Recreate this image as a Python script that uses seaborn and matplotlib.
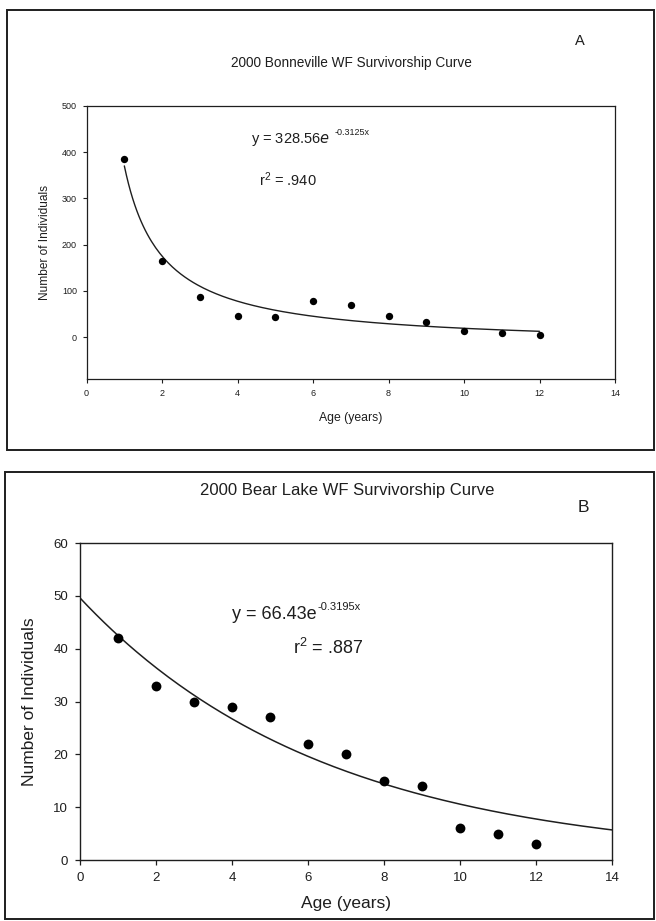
import numpy as np
import pandas as pd
import matplotlib
matplotlib.use("Agg")
import matplotlib.pyplot as plt
from matplotlib.patches import Rectangle
from matplotlib.transforms import offset_copy
import seaborn as sns

# ---- data ----
age = [1, 2, 3, 4, 5, 6, 7, 8, 9, 10, 11, 12]
bonneville = [384, 165, 87, 45, 43, 78, 70, 47, 32, 14, 9, 6]
bear_lake = [42, 33, 30, 29, 27, 22, 20, 15, 14, 6, 5, 3]

# trend curve parameters (as drawn)
bon_a, bon_c = 389.5, -19.5          # y = a/x + c, drawn from x=1..12
bear_a, bear_k = 49.6, 0.1546        # y = a*exp(-k x), drawn from x=0..14

x_ticks = [0, 2, 4, 6, 8, 10, 12, 14]
bon_yticks = [0, 100, 200, 300, 400, 500]
bear_yticks = [0, 10, 20, 30, 40, 50, 60]

sns.set_theme(style="ticks")
plt.rcParams['font.family'] = ['Liberation Sans', 'DejaVu Sans']
plt.rcParams['mathtext.default'] = 'regular'
plt.rcParams['axes.unicode_minus'] = False

W, H = 656, 921
fig = plt.figure(figsize=(W / 100, H / 100), dpi=100)
fig.patch.set_facecolor("white")

ink = "#1e1e1e"

# outer panel boxes
for (x0, y0, x1, y1) in [(7, 10, 654, 450), (5, 472, 654, 919)]:
    fig.patches.append(Rectangle((x0 / W, 1 - y1 / H), (x1 - x0) / W, (y1 - y0) / H,
                                 transform=fig.transFigure, fill=False,
                                 edgecolor=ink, linewidth=1.4))


def equation(ax, x, y, main, sup, size, sup_size, gap, rise):
    t = ax.text(x, y, main, transform=ax.transAxes, fontsize=size, color=ink,
                va="center", ha="left")
    fig.canvas.draw()
    bb = t.get_window_extent()
    xe, _ = ax.transAxes.inverted().transform((bb.x1, bb.y0))
    tr = offset_copy(ax.transAxes, fig=fig, x=gap, y=rise, units="points")
    ax.text(xe, y, sup, transform=tr, fontsize=sup_size, color=ink,
            va="center", ha="left")


# ---- panel A ----
axA = fig.add_axes([86.6 / W, 1 - 379 / H, (615 - 86.6) / W, (379 - 105.7) / H])
dfA = pd.DataFrame({"age": age, "n": bonneville})
xa = np.linspace(1, 12, 200)
sns.lineplot(x=xa, y=bon_a / xa + bon_c, ax=axA, color=ink, linewidth=1.0)
sns.scatterplot(data=dfA, x="age", y="n", ax=axA, color="black", s=28,
                edgecolor="black", linewidth=0, zorder=3)
axA.set_xlim(0, 14)
axA.set_ylim(-90, 500)
axA.set_xticks(x_ticks)
axA.set_yticks(bon_yticks)
axA.tick_params(labelsize=6.5, length=3, width=0.8, color=ink, labelcolor=ink, pad=4)
for s in axA.spines.values():
    s.set_visible(True)
    s.set_color(ink)
    s.set_linewidth(0.9)
axA.set_xlabel("Age (years)", fontsize=8.8, color=ink, labelpad=10)
axA.set_ylabel("Number of Individuals", fontsize=8.6, color=ink, labelpad=8)
equation(axA, 0.311, 0.878, "y = 328.56$\\it{e}$", "-0.3125x", 10.5, 6.5, 3, 4.5)
axA.text(0.326, 0.728, "r$^{2}$ = .940", transform=axA.transAxes,
         fontsize=10.5, color=ink, va="center", ha="left")
fig.text(351 / W, 1 - 63 / H, "2000 Bonneville WF Survivorship Curve",
         fontsize=9.8, color=ink, ha="center", va="center")
fig.text(580 / W, 1 - 41 / H, "A", fontsize=10.5, color=ink, ha="center", va="center")

# ---- panel B ----
axB = fig.add_axes([80 / W, 1 - 860 / H, (612 - 80) / W, (860 - 543) / H])
dfB = pd.DataFrame({"age": age, "n": bear_lake})
xb = np.linspace(0, 14, 200)
sns.lineplot(x=xb, y=bear_a * np.exp(-bear_k * xb), ax=axB, color=ink, linewidth=1.1)
sns.scatterplot(data=dfB, x="age", y="n", ax=axB, color="black", s=50,
                edgecolor="black", linewidth=0, zorder=3)
axB.set_xlim(0, 14)
axB.set_ylim(0, 60)
axB.set_xticks(x_ticks)
axB.set_yticks(bear_yticks)
axB.tick_params(labelsize=9.5, length=3.5, width=0.9, color=ink, labelcolor=ink, pad=5)
for s in axB.spines.values():
    s.set_visible(True)
    s.set_color(ink)
    s.set_linewidth(1.0)
axB.set_xlabel("Age (years)", fontsize=12.5, color=ink, labelpad=9)
axB.set_ylabel("Number of Individuals", fontsize=12.5, color=ink, labelpad=12)
equation(axB, 0.286, 0.773, "y = 66.43e", "-0.3195x", 13, 8, 0.5, 5.5)
axB.text(0.40, 0.669, "r$^{2}$ = .887", transform=axB.transAxes,
         fontsize=13, color=ink, va="center", ha="left")
fig.text(347 / W, 1 - 490 / H, "2000 Bear Lake WF Survivorship Curve",
         fontsize=12, color=ink, ha="center", va="center")
fig.text(583 / W, 1 - 507.7 / H, "B", fontsize=12.5, color=ink, ha="center", va="center")

fig.savefig("out.png", dpi=100, facecolor="white")
